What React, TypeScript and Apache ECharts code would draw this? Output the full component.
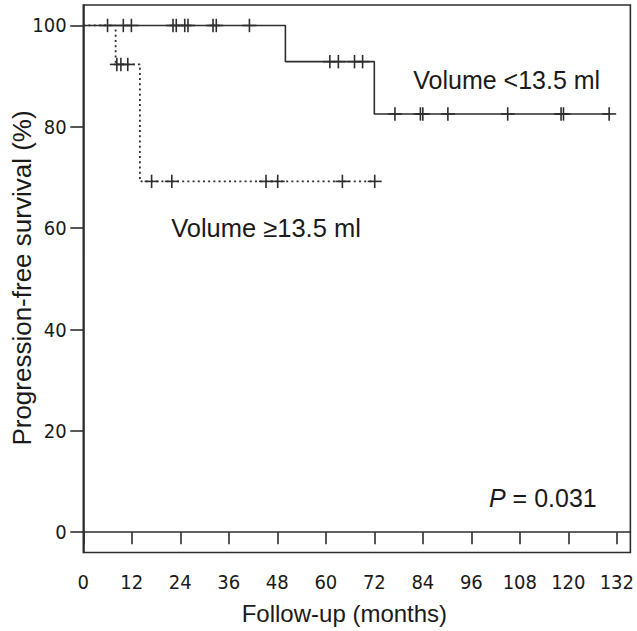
import React, { useEffect, useRef } from "react";
import * as echarts from "echarts";

// Kaplan–Meier step points (time in months, survival %)
const smallTimes = [0, 50, 72, 130.1];
const smallSurv = [100, 92.86, 82.54, 82.54];
const largeTimes = [0, 8, 14, 72.1];
const largeSurv = [100, 92.31, 69.23, 69.23];

// Censored observations
const smallCensorTimes = [6.0, 9.9, 11.9, 22.2, 23.0, 25.1, 25.9, 32.1, 32.9, 41.1, 61.0, 63.1, 67.1, 69.1, 77.1, 83.4, 84.0, 90.2, 105.0, 118.2, 118.8, 130.1];
const smallCensorSurv = [100, 100, 100, 100, 100, 100, 100, 100, 100, 100, 92.86, 92.86, 92.86, 92.86, 82.54, 82.54, 82.54, 82.54, 82.54, 82.54, 82.54, 82.54];
const largeCensorTimes = [8.3, 9.3, 11.0, 16.9, 21.9, 45.2, 48.1, 64.1, 72.1];
const largeCensorSurv = [92.31, 92.31, 92.31, 69.23, 69.23, 69.23, 69.23, 69.23, 69.23];

const xTicks = [0, 12, 24, 36, 48, 60, 72, 84, 96, 108, 120, 132];
const yTicks = [0, 20, 40, 60, 80, 100];

const labelSmall = "Volume <13.5 ml";
const labelLarge = "Volume \u226513.5 ml";
const xTitle = "Follow-up (months)";
const yTitle = "Progression-free survival (%)";

const INK = "#2e2e2e";
const TEXT = "#1a1a1a";
const SANS = "Liberation Sans, Arial, Helvetica, sans-serif";
const TICKFONT = "DejaVu Sans Condensed, DejaVu Sans, sans-serif";

function zip(a: number[], b: number[]) {
  return a.map((v, i) => [v, b[i]]);
}

function censorRender(params: any, api: any) {
  const p = api.coord([api.value(0), api.value(1)]);
  const style = { stroke: INK, lineWidth: 1.6 };
  return {
    type: "group",
    children: [
      { type: "line", shape: { x1: p[0] - 7, y1: p[1], x2: p[0] + 7, y2: p[1] }, style },
      { type: "line", shape: { x1: p[0], y1: p[1] - 6.7, x2: p[0], y2: p[1] + 6.7 }, style },
    ],
  };
}

export default function App() {
  const ref = useRef<HTMLDivElement>(null);
  useEffect(() => {
    if (!ref.current) return;
    const chart = echarts.init(ref.current, undefined, { renderer: "svg" });
    const axisLine = { show: true, lineStyle: { color: INK, width: 1.6 } };
    chart.setOption({
      animation: false,
      backgroundColor: "#ffffff",
      grid: {
        left: 83.3,
        right: 4.7,
        top: 5,
        bottom: 78.5,
        show: true,
        borderColor: INK,
        borderWidth: 1.6,
        backgroundColor: "transparent",
      },
      xAxis: {
        type: "value",
        min: 0,
        max: 135.35,
        axisLine,
        axisTick: { show: true, customValues: xTicks, length: 12, lineStyle: { color: INK, width: 1.6 } },
        axisLabel: {
          customValues: xTicks,
          margin: 19.5,
          fontSize: 20,
          fontFamily: TICKFONT,
          color: TEXT,
        },
        splitLine: { show: false },
      },
      yAxis: {
        type: "value",
        min: -4,
        max: 104.04,
        axisLine,
        axisTick: { show: true, customValues: yTicks, length: 13, lineStyle: { color: INK, width: 1.6 } },
        axisLabel: {
          customValues: yTicks,
          margin: 16.6,
          fontSize: 20,
          fontFamily: TICKFONT,
          color: TEXT,
        },
        splitLine: { show: false },
      },
      series: [
        {
          type: "line",
          step: "end",
          data: zip(largeTimes, largeSurv),
          showSymbol: false,
          symbol: "none",
          lineStyle: { color: INK, width: 1.8, type: [2, 3.2] },
          z: 2,
        },
        {
          type: "line",
          step: "end",
          data: zip(smallTimes, smallSurv),
          showSymbol: false,
          symbol: "none",
          lineStyle: { color: INK, width: 1.6, type: "solid" },
          z: 3,
        },
        {
          type: "custom",
          renderItem: censorRender,
          data: zip(smallCensorTimes, smallCensorSurv),
          z: 4,
        },
        {
          type: "custom",
          renderItem: censorRender,
          data: zip(largeCensorTimes, largeCensorSurv),
          z: 4,
        },
      ],
      graphic: [
        {
          type: "text",
          x: 506.7,
          y: 80,
          style: { text: labelSmall, fontSize: 25, fontFamily: SANS, fill: TEXT, align: "center", verticalAlign: "middle" },
        },
        {
          type: "text",
          x: 266,
          y: 228.3,
          style: { text: labelLarge, fontSize: 25.5, fontFamily: SANS, fill: TEXT, align: "center", verticalAlign: "middle" },
        },
        {
          type: "text",
          x: 489,
          y: 498.3,
          style: {
            text: "{i|P} = 0.031",
            fontSize: 25,
            fontFamily: SANS,
            fill: TEXT,
            align: "left",
            verticalAlign: "middle",
            rich: { i: { fontStyle: "italic", fontSize: 25, fontFamily: SANS, fill: TEXT } },
          },
        },
        {
          type: "text",
          x: 344.4,
          y: 613.3,
          style: { text: xTitle, fontSize: 24, fontFamily: SANS, fill: TEXT, align: "center", verticalAlign: "middle" },
        },
        {
          type: "text",
          x: 22.2,
          y: 278,
          rotation: Math.PI / 2,
          style: { text: yTitle, fontSize: 26, fontFamily: SANS, fill: TEXT, align: "center", verticalAlign: "middle" },
        },
      ],
    });
    return () => chart.dispose();
  }, []);
  return (
    <div
      ref={ref}
      style={{ position: "fixed", left: 0, top: 0, width: 637, height: 631, background: "#fff" }}
    />
  );
}
